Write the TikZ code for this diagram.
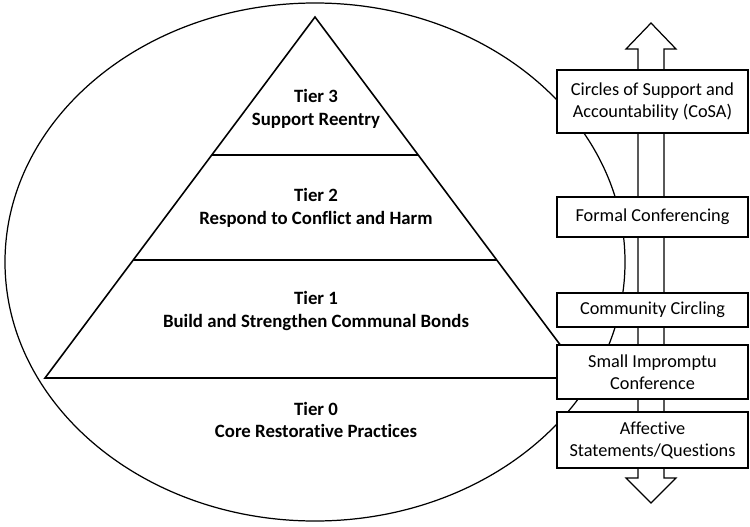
\documentclass[tikz,border=0pt]{standalone}
\usepackage{fontspec}
\setmainfont[Ligatures=NoCommon]{Carlito}
\usetikzlibrary{calc}
\tikzset{
  tierlabel/.style={font=\bfseries\fontsize{10.7}{13}\selectfont, align=center},
  practicebox/.style={draw, fill=white, line width=0.7pt, minimum width=3.82cm,
    inner sep=0pt, align=center, font=\fontsize{10.4}{12.6}\selectfont}
}
\begin{document}
\begin{tikzpicture}[x=0.02cm,y=-0.02cm]
	\useasboundingbox (0,0) rectangle (750,527);
	% outer ellipse
	\draw[line width=0.7pt] (315,262) ellipse [x radius=310, y radius=259];
	% pyramid
	\coordinate (apex) at (315,17);
	\coordinate (bl) at (45,378);
	\coordinate (br) at (585,378);
	\draw[line width=0.9pt] (apex) -- (bl) -- (br) -- cycle;
	\draw[line width=0.9pt] ($(apex)!0.3823!(bl)$) -- ($(apex)!0.3823!(br)$);
	\draw[line width=0.9pt] ($(apex)!0.6731!(bl)$) -- ($(apex)!0.6731!(br)$);
	\node[tierlabel] (t3) at (316,109) {Tier 3\\Support Reentry};
	\node[tierlabel] (t2) at (316,208) {Tier 2\\Respond to Conflict and Harm};
	\node[tierlabel] (t1) at (316,311) {Tier 1\\Build and Strengthen Communal Bonds};
	\node[tierlabel] (t0) at (316,420) {Tier 0\\Core Restorative Practices};
	% double arrow
	\draw[line width=0.7pt, fill=white] (638,49) -- (626,49) -- (651,23) -- (676,49) -- (664,49)
		-- (664,478) -- (676,478) -- (651,503) -- (626,478) -- (638,478) -- cycle;
	% practices
	\node[practicebox, minimum height=1.26cm] (cosa) at (652.5,101.5) {Circles of Support and\\Accountability (CoSA)};
	\node[practicebox, minimum height=0.8cm] (formal) at (652.5,217) {Formal Conferencing};
	\node[practicebox, minimum height=0.68cm] (circling) at (652.5,310) {Community Circling};
	\node[practicebox, minimum height=1.08cm] (impromptu) at (652.5,372) {Small Impromptu\\Conference};
	\node[practicebox, minimum height=1.12cm] (affective) at (652.5,440) {Affective\\Statements/Questions};
\end{tikzpicture}
\end{document}
